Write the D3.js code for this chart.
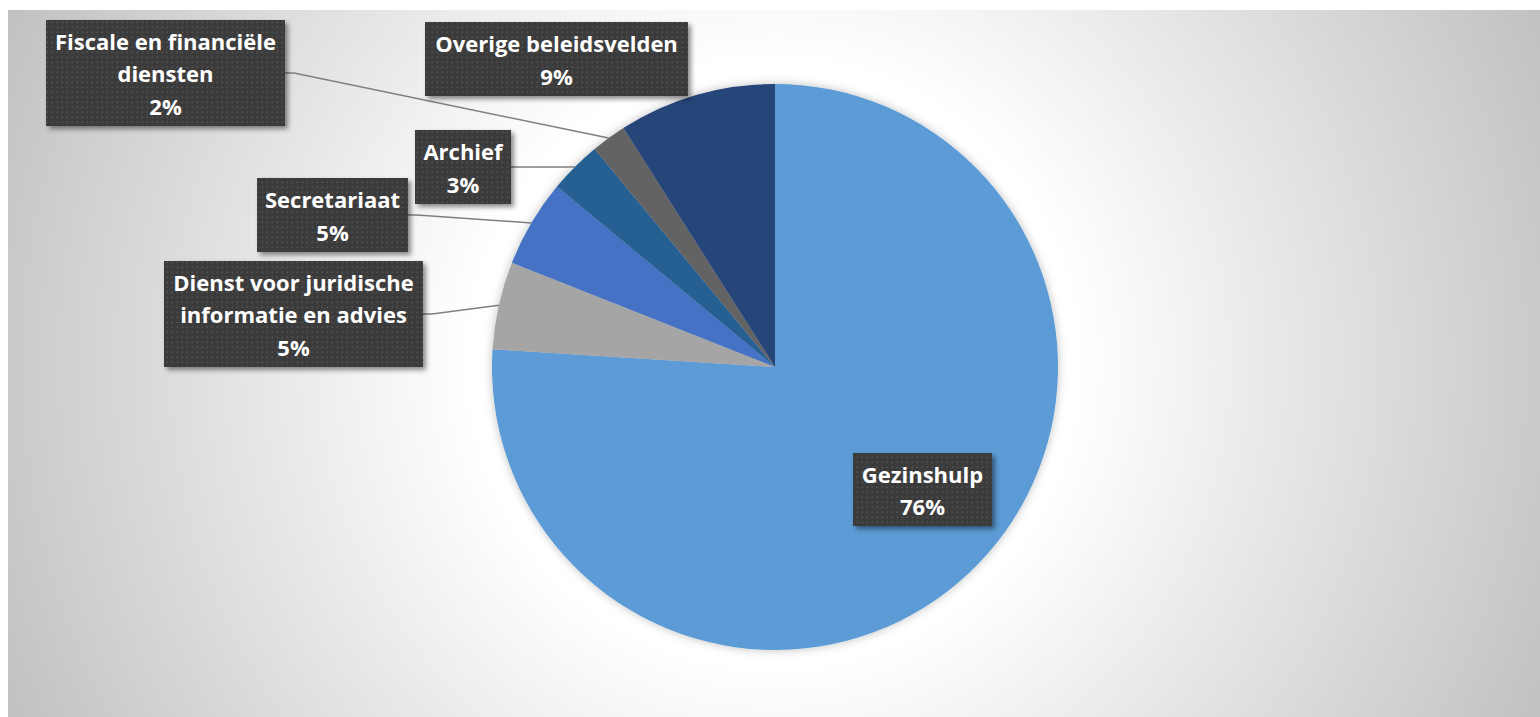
<!DOCTYPE html>
<html>
<head>
<meta charset="utf-8">
<script src="https://cdn.jsdelivr.net/npm/d3@7/dist/d3.min.js"></script>
<style>
html,body{margin:0;padding:0;background:#fff;overflow:hidden;}
svg{display:block;}
text{font-variant-ligatures:none;}
</style>
</head>
<body>
<svg id="chart" width="1540" height="717"></svg>
<script>
// ---- data ----
const categories = ["Gezinshulp", "Dienst voor juridische informatie en advies", "Secretariaat", "Archief", "Fiscale en financiële diensten", "Overige beleidsvelden"];
const values = [76, 5, 5, 3, 2, 9];
const percentLabels = ["76%", "5%", "5%", "3%", "2%", "9%"];
const labelLines = [["Gezinshulp"], ["Dienst voor juridische", "informatie en advies"], ["Secretariaat"], ["Archief"], ["Fiscale en financiële", "diensten"], ["Overige beleidsvelden"]];
const colors = ["#5B9BD5", "#A5A5A5", "#4472C4", "#255E91", "#636363", "#264478"];

// ---- layout (label boxes: x, y, w, h; leader: whether to draw) ----
const labelBoxes = [
  {x: 853, y: 453, w: 139, h: 73, leader: false},
  {x: 164, y: 261, w: 259, h: 106, leader: true},
  {x: 257, y: 178, w: 151, h: 74, leader: true},
  {x: 415, y: 130, w: 96, h: 74, leader: true},
  {x: 46, y: 20, w: 239, h: 106, leader: true},
  {x: 425, y: 22, w: 263, h: 74, leader: false}
];

const W = 1540, H = 717;
const cx = 775, cy = 367, R = 283;
const svg = d3.select("#chart");
const defs = svg.append("defs");

// background gradient
const bg = defs.append("radialGradient").attr("id", "bgGrad")
  .attr("gradientUnits", "userSpaceOnUse").attr("cx", 774).attr("cy", 363).attr("r", 843);
bg.append("stop").attr("offset", 0).attr("stop-color", "#ffffff");
bg.append("stop").attr("offset", 0.36).attr("stop-color", "#ffffff");
bg.append("stop").attr("offset", 1).attr("stop-color", "#c1c1c1");

// dot pattern for label boxes
const pat = defs.append("pattern").attr("id", "dots").attr("patternUnits", "userSpaceOnUse")
  .attr("width", 5).attr("height", 5);
pat.append("rect").attr("width", 5).attr("height", 5).attr("fill", "#3b3b3b");
pat.append("rect").attr("x", 1.5).attr("y", 1.5).attr("width", 1.6).attr("height", 1.6).attr("fill", "#525252");

// shadows
const sh = defs.append("filter").attr("id", "boxShadow").attr("x", "-20%").attr("y", "-20%").attr("width", "140%").attr("height", "150%");
sh.append("feDropShadow").attr("dx", 3).attr("dy", 3).attr("stdDeviation", 2.5).attr("flood-color", "#000").attr("flood-opacity", 0.45);
const psh = defs.append("filter").attr("id", "pieShadow").attr("x", "-10%").attr("y", "-10%").attr("width", "120%").attr("height", "120%");
psh.append("feDropShadow").attr("dx", 0).attr("dy", 0).attr("stdDeviation", 5).attr("flood-color", "#000").attr("flood-opacity", 0.25);

svg.append("rect").attr("x", 8).attr("y", 10).attr("width", W - 8).attr("height", H - 10).attr("fill", "url(#bgGrad)");

// pie
const pie = d3.pie().sort(null).value(d => d)(values);
const arc = d3.arc().innerRadius(0).outerRadius(R);
const g = svg.append("g").attr("transform", `translate(${cx},${cy})`);
g.append("g").attr("filter", "url(#pieShadow)")
  .selectAll("path").data(pie).join("path")
  .attr("d", arc).attr("fill", (d, i) => colors[i]);

// leader lines
const leaderG = svg.append("g");
pie.forEach((d, i) => {
  const b = labelBoxes[i];
  if (!b.leader) return;
  const a = (d.startAngle + d.endAngle) / 2;
  const px = cx + R * Math.sin(a), py = cy - R * Math.cos(a);
  const sx = b.x + b.w, sy = b.y + b.h / 2;
  leaderG.append("polyline")
    .attr("points", `${sx},${sy} ${sx + 9},${sy} ${px},${py}`)
    .attr("fill", "none").attr("stroke", "#7f7f7f").attr("stroke-width", 1.5);
});

// labels
const fontFam = "'Open Sans', Lato, sans-serif";
const fs = 22;
const capH = 15.7;
const lh = 32.4;
const labG = svg.append("g");
labelBoxes.forEach((b, i) => {
  const grp = labG.append("g");
  grp.append("rect").attr("x", b.x).attr("y", b.y).attr("width", b.w).attr("height", b.h)
    .attr("fill", "url(#dots)").attr("filter", "url(#boxShadow)");
  const lines = labelLines[i].concat([percentLabels[i]]);
  const c = b.y + b.h / 2 + 1.6;
  lines.forEach((t, j) => {
    grp.append("text")
      .attr("x", b.x + b.w / 2)
      .attr("y", c + (j - (lines.length - 1) / 2) * lh + capH / 2)
      .attr("text-anchor", "middle")
      .attr("font-family", fontFam).attr("font-weight", 700).attr("font-size", fs)
      .attr("fill", "#ffffff").text(t);
  });
});
</script>
</body>
</html>
